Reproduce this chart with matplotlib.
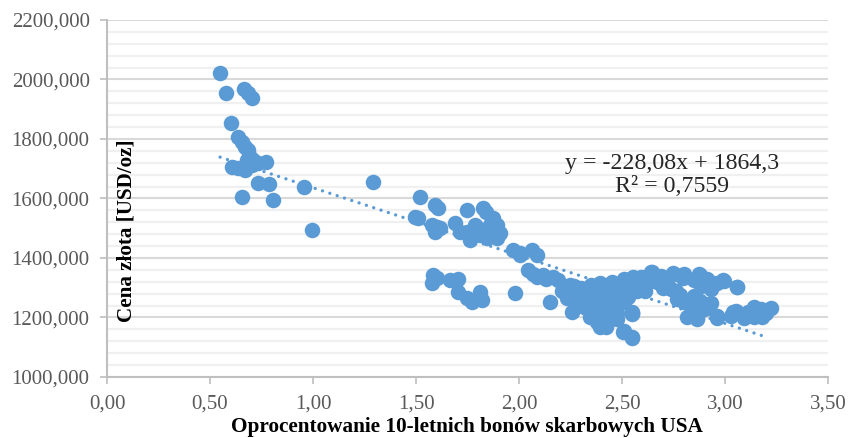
import matplotlib
matplotlib.use("Agg")
import matplotlib.pyplot as plt
import numpy as np
from matplotlib.ticker import MultipleLocator, FuncFormatter

# 10-year US Treasury yield [%] vs. gold price [USD/oz]
yield_10y = [
    # 2020 low-yield period
    0.549, 0.578, 0.667, 0.686, 0.702, 0.600, 0.634, 0.657, 0.670, 0.686,
    0.694, 0.678, 0.605, 0.637, 0.670, 0.702, 0.735, 0.772, 0.710, 0.731,
    0.788, 0.654, 0.807, 0.958, 0.995, 1.291,
    # 1.5 - 1.9 %
    1.519, 1.592, 1.608, 1.495, 1.511, 1.576, 1.600, 1.617, 1.592, 1.746,
    1.827, 1.840, 1.689, 1.714, 1.746, 1.762, 1.795, 1.811, 1.843, 1.876,
    1.892, 1.908, 1.859, 1.892, 1.786, 1.770, 1.820, 1.860,
    1.584, 1.576, 1.600, 1.665, 1.706, 1.706, 1.746, 1.770, 1.811, 1.819,
    1.981,
    # 2.0 - 2.2 %
    1.973, 2.005, 2.062, 2.086, 2.005, 2.044, 2.086, 2.118, 2.167, 2.191,
    2.150, 2.070, 2.130,
    # 2.2 - 2.6 %
    2.248, 2.256, 2.296, 2.231, 2.314, 2.393, 2.458, 2.345, 2.409, 2.345,
    2.393, 2.426, 2.474, 2.377, 2.523, 2.555, 2.547, 2.507, 2.547, 2.458,
    2.280, 2.267, 2.316, 2.348, 2.380, 2.421, 2.453, 2.397, 2.477, 2.510,
    2.550, 2.550, 2.542, 2.575, 2.510, 2.493, 2.445, 2.510, 2.547,
    2.210, 2.260, 2.300, 2.330, 2.360, 2.400, 2.430, 2.440, 2.470, 2.490,
    2.370, 2.410, 2.420, 2.320, 2.280, 2.350, 2.440, 2.390, 2.460, 2.520,
    2.530,
    # 2.55 - 3.1 %, upper band
    2.590, 2.639, 2.672, 2.704, 2.752, 2.801, 2.874, 2.914, 2.931, 2.995,
    3.060, 2.736, 2.882, 2.571, 2.644, 2.749, 2.798, 2.879, 2.927, 2.992,
    3.056, 2.700, 2.782, 2.600, 2.620, 2.660, 2.690, 2.720, 2.850, 2.900,
    2.960, 2.610, 2.760,
    # 2.75 - 3.25 %, lower band
    2.817, 2.866, 2.898, 2.963, 3.052, 3.092, 3.141, 3.173, 3.222, 3.141,
    3.181, 3.027, 2.769, 2.801, 2.850, 2.830, 2.862, 2.911, 2.960, 3.041,
    3.090, 2.880, 2.930, 2.840, 3.110, 3.200,
]

gold_price = [
    2021, 1954, 1967, 1954, 1937, 1855, 1806, 1791, 1774, 1763,
    1740, 1729, 1707, 1702, 1696, 1713, 1718, 1724, 1729, 1651,
    1648, 1606, 1595, 1640, 1494, 1655,
    1606, 1578, 1567, 1539, 1533, 1511, 1505, 1500, 1489, 1561,
    1567, 1556, 1517, 1489, 1489, 1461, 1500, 1477, 1466, 1533,
    1511, 1483, 1489, 1466, 1511, 1478, 1495, 1510,
    1343, 1315, 1332, 1326, 1329, 1287, 1265, 1253, 1287, 1259,
    1283,
    1427, 1416, 1427, 1410, 1410, 1360, 1337, 1343, 1337, 1326,
    1253, 1345, 1330,
    1309, 1220, 1270, 1265, 1236, 1315, 1315, 1281, 1248, 1203,
    1169, 1181, 1214, 1192, 1326, 1337, 1220, 1152, 1130, 1259,
    1292, 1307, 1273, 1206, 1184, 1167, 1318, 1307, 1195, 1156,
    1134, 1212, 1318, 1290, 1329, 1296, 1262, 1251, 1214,
    1290, 1285, 1300, 1255, 1240, 1275, 1290, 1230, 1245, 1270,
    1225, 1210, 1295, 1290, 1245, 1310, 1200, 1260, 1280, 1290,
    1270,
    1335, 1352, 1318, 1307, 1346, 1346, 1346, 1329, 1296, 1324,
    1302, 1296, 1307, 1320, 1354, 1349, 1332, 1343, 1320, 1326,
    1304, 1298, 1276, 1300, 1315, 1330, 1340, 1325, 1325, 1310,
    1315, 1290, 1290,
    1201, 1195, 1229, 1206, 1223, 1206, 1234, 1229, 1231, 1201,
    1201, 1206, 1262, 1251, 1273, 1209, 1197, 1231, 1197, 1220,
    1197, 1255, 1250, 1240, 1220, 1215,
]

# Linear trend reported for the series
trend_slope = -228.08
trend_intercept = 1864.3
trend_r2 = 0.7559
trend_x_range = [0.549, 3.20]

x_ticks = [0.0, 0.5, 1.0, 1.5, 2.0, 2.5, 3.0, 3.5]
y_ticks = [1000, 1200, 1400, 1600, 1800, 2000, 2200]

x_title = "Oprocentowanie 10-letnich bonów skarbowych USA"
y_title = "Cena złota [USD/oz]"

BLUE = "#5b9bd5"
SERIF = ["Liberation Serif", "DejaVu Serif"]

fig = plt.figure(figsize=(8.48, 4.38), dpi=100)
W, H = 848, 438
ax = fig.add_axes([107 / W, (H - 377) / H, (828 - 107) / W, (377 - 20) / H])

ax.set_xlim(x_ticks[0], x_ticks[-1])
ax.set_ylim(y_ticks[0], y_ticks[-1])
ax.set_xticks(x_ticks)
ax.set_yticks(y_ticks)
ax.yaxis.set_minor_locator(MultipleLocator(40))

ax.grid(axis="y", which="major", color="#d9d9d9", lw=1.5, zorder=0)
ax.grid(axis="y", which="minor", color="#f0f0f0", lw=1.6, zorder=0)
ax.set_axisbelow(True)

for side in ("top", "right"):
    ax.spines[side].set_visible(False)
for side in ("left", "bottom"):
    ax.spines[side].set_color("#bfbfbf")
    ax.spines[side].set_linewidth(1.5)

ax.tick_params(axis="both", which="major", length=5, width=1.2, color="#bfbfbf",
               labelcolor="#595959", labelsize=15, pad=7.5)
ax.tick_params(axis="y", which="minor", length=0)
ax.xaxis.set_major_formatter(FuncFormatter(lambda v, p: f"{v:.2f}".replace(".", ",")))
ax.yaxis.set_major_formatter(FuncFormatter(lambda v, p: f"{v:.3f}".replace(".", ",")))
for lbl in ax.get_xticklabels() + ax.get_yticklabels():
    lbl.set_family(SERIF)

ax.scatter(yield_10y, gold_price, s=125, color=BLUE, linewidths=0, zorder=3)

tx = np.array(trend_x_range)
ax.plot(tx, trend_slope * tx + trend_intercept, color=BLUE, lw=2.4,
        linestyle=(0, (0.01, 2.3)), dash_capstyle="round", zorder=4)

eq = (f"y = {trend_slope:.2f}x + {trend_intercept:.1f}".replace(".", ",")
      + "\n" + f"R² = {trend_r2:.4f}".replace(".", ","))
fig.text(672 / W, 1 - 175 / H, eq, ha="center", va="center", ma="center",
         fontsize=17.2, family=SERIF, color="#262626", linespacing=1.15)

fig.text(467 / W, 1 - 427 / H, x_title, ha="center", va="center",
         fontsize=15.3, fontweight="bold", family=SERIF, color="#000000")
fig.text(126 / W, 1 - 231 / H, y_title, ha="center", va="center", rotation=90,
         fontsize=15.2, fontweight="bold", family=SERIF, color="#000000")

fig.savefig("out.png", dpi=100)
